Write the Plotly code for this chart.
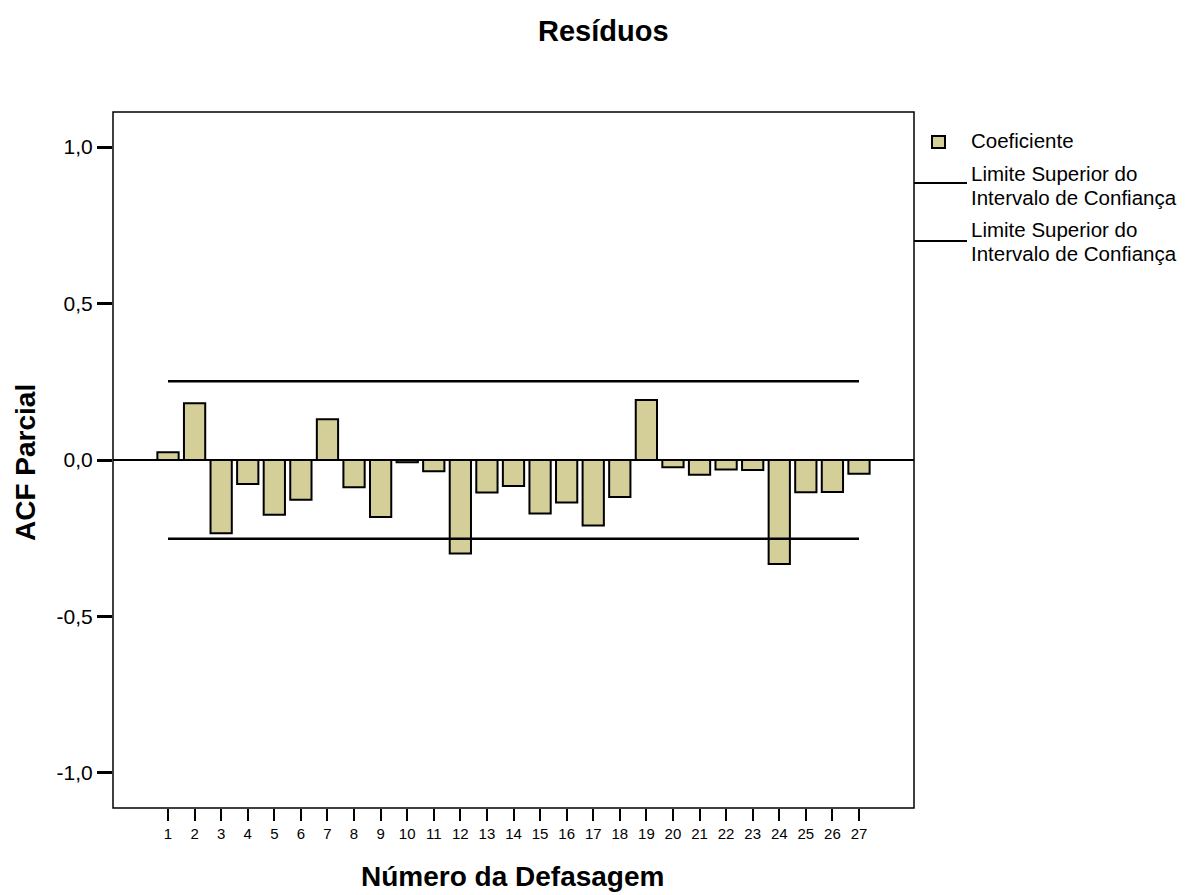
import plotly.graph_objects as go

lags = list(range(1, 28))
pacf = [0.025, 0.181, -0.234, -0.077, -0.175, -0.127, 0.130, -0.087, -0.182, -0.007,
        -0.036, -0.299, -0.104, -0.083, -0.171, -0.136, -0.209, -0.118, 0.192, -0.023,
        -0.047, -0.030, -0.032, -0.332, -0.103, -0.102, -0.044]
conf_upper = 0.252
conf_lower = -0.252
y_ticks = [-1.0, -0.5, 0.0, 0.5, 1.0]
y_tick_text = ["-1,0", "-0,5", "0,0", "0,5", "1,0"]

# page offset (browser body margin)
OFF = 8
W, H = 1189 - OFF, 895 - OFF
L, R, T, B = 113, 914, 112, 808  # plot area in reference pixel coords


def px(x):
    return (x - L) / (R - L)


def py(y):
    return (B - y) / (B - T)


BAR = "#d4cf98"
FONT = "Liberation Sans, Arial, sans-serif"

fig = go.Figure()
fig.add_trace(go.Bar(x=lags, y=pacf, width=0.8,
                     marker=dict(color=BAR, line=dict(color="black", width=2)),
                     name="Coeficiente", showlegend=False))
fig.add_trace(go.Scatter(x=lags, y=[conf_upper] * len(lags), mode="lines",
                         line=dict(color="black", width=2.5), showlegend=False))
fig.add_trace(go.Scatter(x=lags, y=[conf_lower] * len(lags), mode="lines",
                         line=dict(color="black", width=2.5), showlegend=False))

shapes = [
    dict(type="rect", xref="paper", yref="paper", x0=0, x1=1, y0=0, y1=1,
         line=dict(color="black", width=1.5)),
    dict(type="line", xref="paper", yref="paper", x0=px(914), x1=px(967), y0=py(183), y1=py(183),
         line=dict(color="black", width=2)),
    dict(type="line", xref="paper", yref="paper", x0=px(914), x1=px(967), y0=py(241), y1=py(241),
         line=dict(color="black", width=2)),
    dict(type="rect", xref="paper", yref="paper", x0=px(932), x1=px(945), y0=py(148), y1=py(136),
         fillcolor=BAR, line=dict(color="black", width=2)),
]


def txt(text, x, y, size, bold=False, xanchor="left", angle=0):
    return dict(text=f"<b>{text}</b>" if bold else text, xref="paper", yref="paper",
                x=px(x), y=py(y), showarrow=False, textangle=angle,
                font=dict(size=size, family=FONT, color="black"),
                xanchor=xanchor, yanchor="middle")


annotations = [
    txt("Resíduos", 603, 31, 29, bold=True, xanchor="center"),
    txt("ACF Parcial", 25, 463, 28, bold=True, xanchor="center", angle=-90),
    txt("Número da Defasagem", 512, 877, 28, bold=True, xanchor="center"),
    txt("Coeficiente", 969, 141, 20.5),
    txt("Limite Superior do", 969, 173, 20.5),
    txt("Intervalo de Confiança", 969, 197, 20.5),
    txt("Limite Superior do", 969, 229, 20.5),
    txt("Intervalo de Confiança", 969, 253, 20.5),
]

fig.update_layout(
    width=W, height=H,
    margin=dict(l=L - OFF, r=W - (R - OFF), t=T - OFF, b=H - (B - OFF), pad=0),
    plot_bgcolor="white", paper_bgcolor="white",
    showlegend=False,
    shapes=shapes, annotations=annotations,
    xaxis=dict(range=[-1.07, 29.07], tickmode="array", tickvals=lags,
               ticktext=[str(v) for v in lags],
               ticks="outside", ticklen=12, tickwidth=2, tickcolor="black",
               showgrid=False, zeroline=False, showline=False,
               tickfont=dict(size=15, family=FONT, color="black")),
    yaxis=dict(range=[-1.112, 1.112], tickmode="array", tickvals=y_ticks, ticktext=y_tick_text,
               ticks="outside", ticklen=15, tickwidth=2.5, tickcolor="black", showgrid=False,
               zeroline=True, zerolinecolor="black", zerolinewidth=2, showline=False,
               tickfont=dict(size=21, family=FONT, color="black")),
)

fig.write_html("out.html")
